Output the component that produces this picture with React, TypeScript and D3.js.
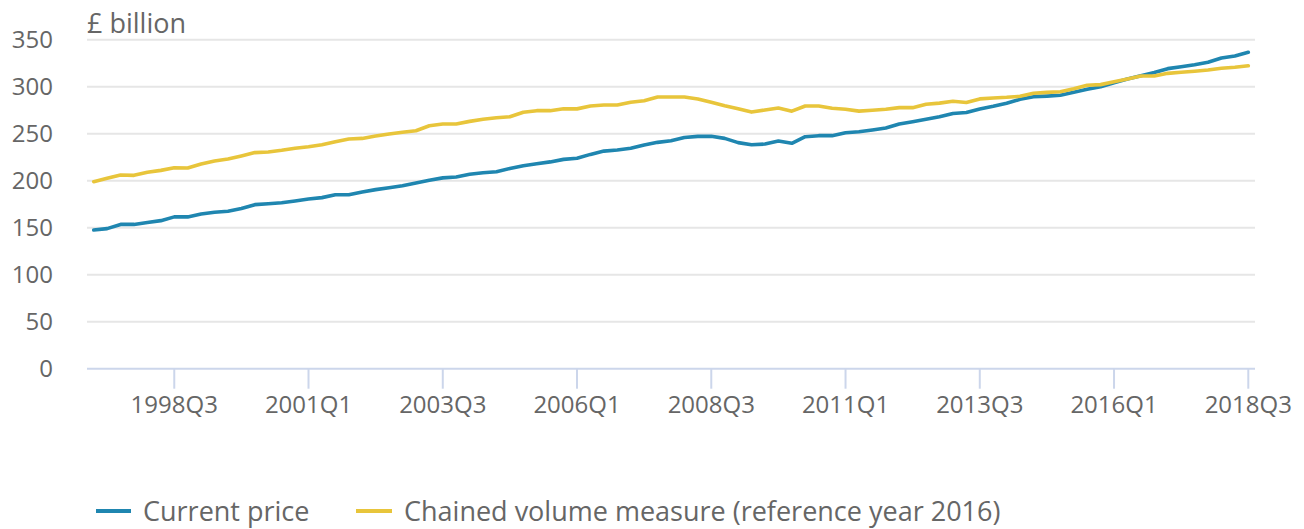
import React from "react";
import * as d3 from "d3";

const startYear = 1997;
const quarterCount = 87;
const quarters: string[] = Array.from({ length: quarterCount }, (_, i) => `${startYear + Math.floor(i / 4)}Q${(i % 4) + 1}`);

const currentPrice: number[] = [
  147.5, 149, 153.5, 153.5, 155.5, 157.5, 161.5, 161.5, 164.5, 166.5,
  167.5, 170.5, 174.5, 175.5, 176.5, 178.5, 180.5, 182, 185, 185,
  188, 190.5, 192.5, 194.7, 197.5, 200.5, 203, 204, 206.8, 208.5,
  209.6, 213, 216, 218, 220, 222.7, 223.8, 228, 231.5, 232.7,
  234.5, 238, 240.8, 242.5, 246, 247.2, 247.2, 245, 240.5, 238.3,
  239, 242.2, 239.8, 246.8, 247.9, 247.9, 251, 252, 254, 256,
  260.3, 262.8, 265.3, 268, 271.5, 272.6, 276.3, 279.1, 282.3, 286.6,
  289.4, 290, 290.9, 294, 297.2, 300, 304.3, 308.2, 311.7, 315,
  319.2, 321.3, 323.4, 326, 330.5, 332.7, 336.6,
];

const chainedVolume: number[] = [
  199, 202.5, 206, 205.7, 209, 211, 213.8, 213.5, 217.8, 221,
  223, 226.3, 229.9, 230.5, 232.3, 234.5, 236.2, 238.3, 241.5, 244.4,
  245, 247.5, 249.7, 251.5, 253.2, 258.5, 260.3, 260.3, 263.1, 265.3,
  267, 268, 272.8, 274.5, 274.5, 276.6, 276.4, 279.5, 280.5, 280.5,
  283.4, 285.1, 289, 289, 289, 287, 283.4, 279.8, 276.6, 273,
  275.2, 277.3, 274, 279.5, 279.5, 277, 276, 274, 274.9, 276,
  277.7, 277.7, 281.3, 282.5, 284.5, 283.2, 287, 288, 288.7, 289.8,
  293, 294, 294.7, 297.9, 301.5, 302.2, 305.3, 308.2, 311.4, 311.4,
  314.2, 315.3, 316.4, 317.8, 319.6, 320.7, 322.3,
];

const xTickLabels: string[] = ["1998Q3", "2001Q1", "2003Q3", "2006Q1", "2008Q3", "2011Q1", "2013Q3", "2016Q1", "2018Q3"];
const yTicks: number[] = [0, 50, 100, 150, 200, 250, 300, 350];
const seriesNames: string[] = ["Current price", "Chained volume measure (reference year 2016)"];
const seriesColors: string[] = ["#1f86b0", "#e8c53b"];
const unitLabel = "£ billion";

const W = 1304;
const H = 529;
const plotLeft = 87;
const plotRight = 1255;
const plotTop = 39.7;
const plotBottom = 368.7;
const font = "'Open Sans', sans-serif";
const textColor = "#666666";

export default function App() {
  const x = d3.scalePoint<string>().domain(quarters).range([plotLeft, plotRight]).padding(0.5);
  const y = d3.scaleLinear().domain([0, 350]).range([plotBottom, plotTop]);
  const line = d3
    .line<number>()
    .x((_, i) => x(quarters[i]) as number)
    .y((d) => y(d));
  const series = [currentPrice, chainedVolume];

  return (
    <svg width={W} height={H} style={{ position: "absolute", left: 0, top: 0, background: "#fff" }}>
      <text x={plotLeft} y={33} fontFamily={font} fontSize={27} fill={textColor}>
        {unitLabel}
      </text>
      {yTicks.map((t) => (
        <g key={t}>
          {t !== 0 && (
            <line x1={plotLeft} x2={plotRight} y1={y(t)} y2={y(t)} stroke="#e6e6e6" strokeWidth={2} />
          )}
          <text x={53} y={y(t)} dy="0.36em" textAnchor="end" fontFamily={font} fontSize={24} fill={textColor}>
            {t}
          </text>
        </g>
      ))}
      <line x1={plotLeft} x2={plotRight} y1={plotBottom} y2={plotBottom} stroke="#ccd6eb" strokeWidth={2} />
      {xTickLabels.map((lab) => {
        const xp = x(lab) as number;
        return (
          <g key={lab}>
            <line x1={xp} x2={xp} y1={plotBottom} y2={plotBottom + 20} stroke="#ccd6eb" strokeWidth={2} />
            <text x={xp} y={413} textAnchor="middle" fontFamily={font} fontSize={24} fill={textColor}>
              {lab}
            </text>
          </g>
        );
      })}
      {series.map((s, k) => (
        <path key={k} d={line(s) || ""} fill="none" stroke={seriesColors[k]} strokeWidth={3.6} strokeLinejoin="round" strokeLinecap="round" />
      ))}
      <g>
        <line x1={96} x2={131} y1={511} y2={511} stroke={seriesColors[0]} strokeWidth={4} />
        <text x={143} y={521} fontFamily={font} fontSize={27} fill={textColor}>
          {seriesNames[0]}
        </text>
        <line x1={356} x2={392} y1={511} y2={511} stroke={seriesColors[1]} strokeWidth={4} />
        <text x={404} y={521} fontFamily={font} fontSize={27} fill={textColor}>
          {seriesNames[1]}
        </text>
      </g>
    </svg>
  );
}
